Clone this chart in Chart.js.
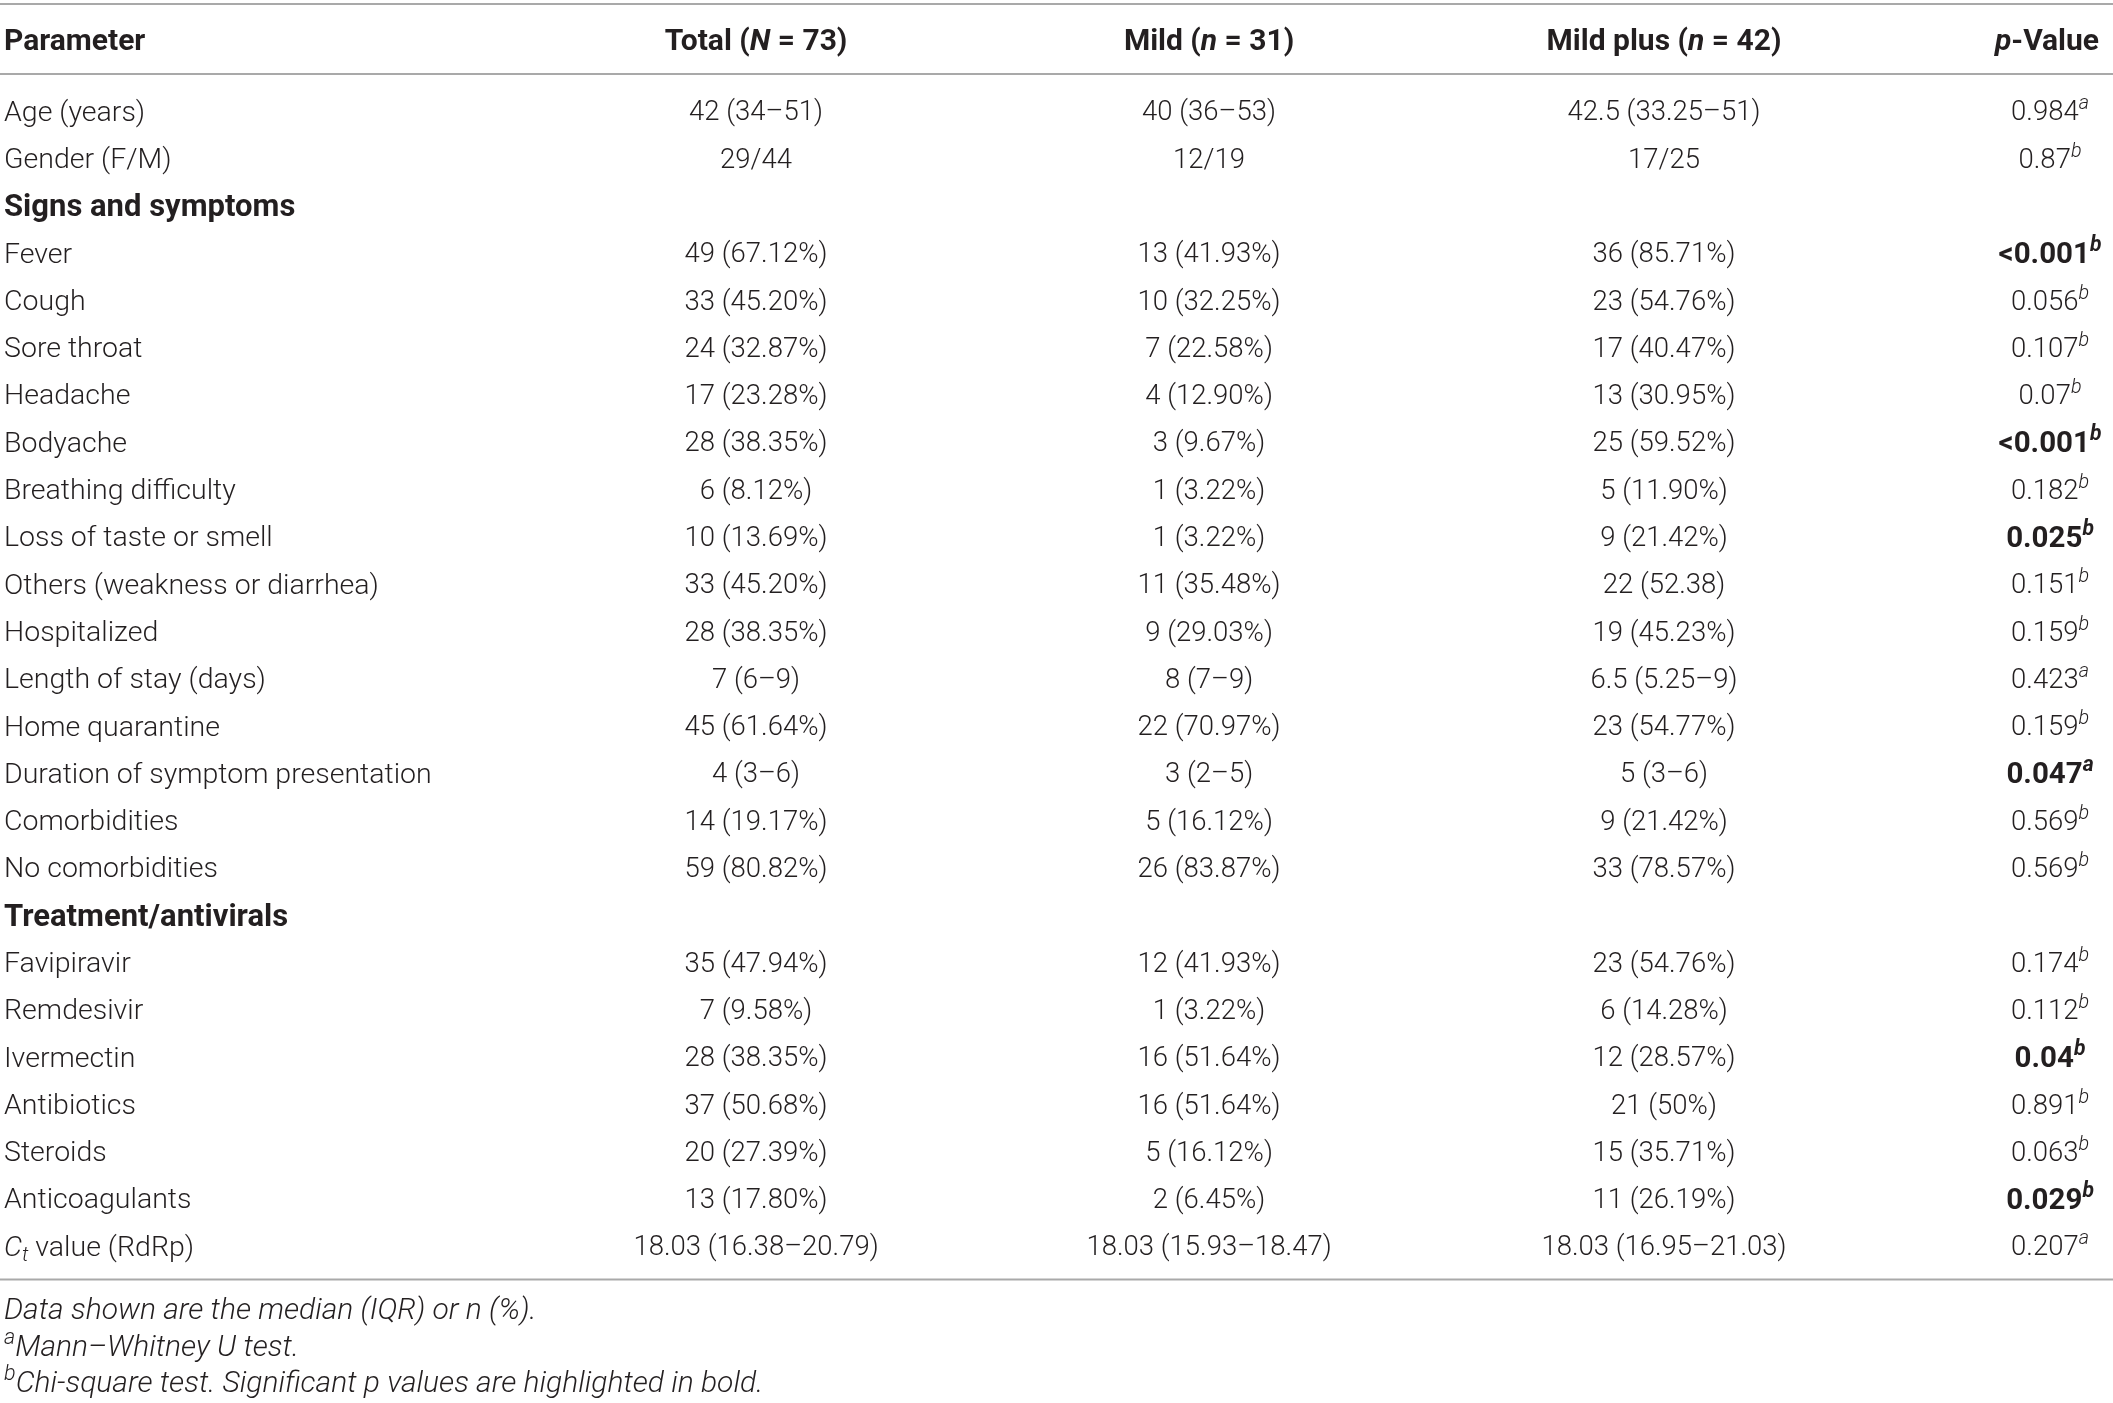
<!DOCTYPE html>
<html>
<head>
<meta charset="utf-8">
<script src="https://cdn.jsdelivr.net/npm/chart.js@4.4.0/dist/chart.umd.min.js"></script>
<style>
html,body{margin:0;padding:0;background:#fff;}
#wrap{width:2113px;height:1403px;}
</style>
</head>
<body>
<div id="wrap"><canvas id="c" width="2113" height="1403"></canvas></div>
<script>
// ---------------- DATA ----------------
const columnHeaders = ["Parameter", "Total ({i:N} = 73)", "Mild ({i:n} = 31)", "Mild plus ({i:n} = 42)", "{i:p}-Value"];

const parameters = [
  "Age (years)", "Gender (F/M)", "Signs and symptoms", "Fever", "Cough", "Sore throat",
  "Headache", "Bodyache", "Breathing difficulty", "Loss of taste or smell",
  "Others (weakness or diarrhea)", "Hospitalized", "Length of stay (days)", "Home quarantine",
  "Duration of symptom presentation", "Comorbidities", "No comorbidities", "Treatment/antivirals",
  "Favipiravir", "Remdesivir", "Ivermectin", "Antibiotics", "Steroids", "Anticoagulants",
  "{i:C}{sub:t} value (RdRp)"
];

const sectionRows = ["Signs and symptoms", "Treatment/antivirals"];

const totalValues = [
  "42 (34–51)", "29/44", "", "49 (67.12%)", "33 (45.20%)", "24 (32.87%)",
  "17 (23.28%)", "28 (38.35%)", "6 (8.12%)", "10 (13.69%)",
  "33 (45.20%)", "28 (38.35%)", "7 (6–9)", "45 (61.64%)",
  "4 (3–6)", "14 (19.17%)", "59 (80.82%)", "",
  "35 (47.94%)", "7 (9.58%)", "28 (38.35%)", "37 (50.68%)", "20 (27.39%)", "13 (17.80%)",
  "18.03 (16.38–20.79)"
];

const mildValues = [
  "40 (36–53)", "12/19", "", "13 (41.93%)", "10 (32.25%)", "7 (22.58%)",
  "4 (12.90%)", "3 (9.67%)", "1 (3.22%)", "1 (3.22%)",
  "11 (35.48%)", "9 (29.03%)", "8 (7–9)", "22 (70.97%)",
  "3 (2–5)", "5 (16.12%)", "26 (83.87%)", "",
  "12 (41.93%)", "1 (3.22%)", "16 (51.64%)", "16 (51.64%)", "5 (16.12%)", "2 (6.45%)",
  "18.03 (15.93–18.47)"
];

const mildPlusValues = [
  "42.5 (33.25–51)", "17/25", "", "36 (85.71%)", "23 (54.76%)", "17 (40.47%)",
  "13 (30.95%)", "25 (59.52%)", "5 (11.90%)", "9 (21.42%)",
  "22 (52.38)", "19 (45.23%)", "6.5 (5.25–9)", "23 (54.77%)",
  "5 (3–6)", "9 (21.42%)", "33 (78.57%)", "",
  "23 (54.76%)", "6 (14.28%)", "12 (28.57%)", "21 (50%)", "15 (35.71%)", "11 (26.19%)",
  "18.03 (16.95–21.03)"
];

const pValues = [
  "0.984", "0.87", "", "<0.001", "0.056", "0.107",
  "0.07", "<0.001", "0.182", "0.025",
  "0.151", "0.159", "0.423", "0.159",
  "0.047", "0.569", "0.569", "",
  "0.174", "0.112", "0.04", "0.891", "0.063", "0.029",
  "0.207"
];

const pTests = [
  "a", "b", "", "b", "b", "b",
  "b", "b", "b", "b",
  "b", "b", "a", "b",
  "a", "b", "b", "",
  "b", "b", "b", "b", "b", "b",
  "a"
];

const pSignificant = [
  false, false, false, true, false, false,
  false, true, false, true,
  false, false, false, false,
  true, false, false, false,
  false, false, true, false, false, true,
  false
];

const footnotes = [
  "Data shown are the median (IQR) or n (%).",
  "{supu:a}Mann–Whitney U test.",
  "{supu:b}Chi-square test. Significant p values are highlighted in bold."
];

// ---------------- LAYOUT ----------------
const COL_X = [0.0019, 0.3578, 0.5722, 0.7875, 0.9702];
const COL_ALIGN = ["left", "center", "center", "center", "center"];
const HEADER_ROW = -1.51;
const RULES = [-2.25, -0.77, 24.72];
const FOOT_ROWS = [25.33, 26.10, 26.86];
const Y_MIN = -2.336, Y_MAX = 27.33;

const TEXT_COLOR = "#231f20";
const RULE_COLOR = "#a9a9a9";
const FAMILY = "Roboto, 'Liberation Sans', sans-serif";
const NUM_SIZE = 27.5;
const LABEL_SIZE = 28.5;
const SECTION_SIZE = 31;
const HEADER_SIZE = 30;
const PBOLD_SIZE = 29.5;
const FOOT_SIZE = 30;

// ---------------- RICH TEXT ----------------
function parseRich(str) {
  const segs = [];
  const re = /\{(i|sub|sup|supu):([^}]*)\}/g;
  let last = 0, m;
  while ((m = re.exec(str))) {
    if (m.index > last) segs.push({ t: str.slice(last, m.index), k: "" });
    segs.push({ t: m[2], k: m[1] });
    last = re.lastIndex;
  }
  if (last < str.length) segs.push({ t: str.slice(last), k: "" });
  return segs;
}

function segFont(s, st) {
  let size = st.size, italic = st.italic, weight = st.weight;
  if (s.k === "i") italic = true;
  if (s.k === "sub" || s.k === "sup") { size = st.size * 0.72; italic = true; }
  if (s.k === "supu") { size = st.size * 0.72; }
  return (italic ? "italic " : "") + weight + " " + size.toFixed(1) + "px " + FAMILY;
}

function drawRich(ctx, str, x, y, align, st) {
  const segs = parseRich(str);
  let total = 0;
  const widths = segs.map(s => { ctx.font = segFont(s, st); const w = ctx.measureText(s.t).width; total += w; return w; });
  let cx = align === "left" ? x : align === "right" ? x - total : x - total / 2;
  const baseline = y + st.size * 0.36;
  ctx.fillStyle = TEXT_COLOR;
  ctx.textAlign = "left";
  ctx.textBaseline = "alphabetic";
  segs.forEach((s, i) => {
    ctx.font = segFont(s, st);
    let dy = 0;
    if (s.k === "sup" || s.k === "supu") dy = -st.size * 0.4;
    if (s.k === "sub") dy = st.size * 0.2;
    ctx.fillText(s.t, cx, baseline + dy);
    cx += widths[i] + (s.k === "sup" ? 1 : 0);
  });
}

// ---------------- DATASETS ----------------
const ruleDatasets = RULES.map(r => ({
  type: "line",
  data: [{ x: 0, y: r }, { x: 1, y: r }],
  borderColor: RULE_COLOR,
  borderWidth: 2,
  pointRadius: 0,
  fill: false
}));

const bodyColumns = [parameters, totalValues, mildValues, mildPlusValues,
  pValues.map((v, i) => v ? v + (pTests[i] ? "{sup:" + pTests[i] + "}" : "") : "")];

const textDatasets = bodyColumns.map((col, c) => ({
  type: "scatter",
  data: col.map((_, r) => ({ x: COL_X[c], y: r })),
  pointRadius: 0,
  isText: true,
  cellText: col,
  align: COL_ALIGN[c],
  styleFor: (r) => {
    if (c === 0) {
      if (sectionRows.includes(parameters[r])) return { size: SECTION_SIZE, weight: 700, italic: false };
      return { size: LABEL_SIZE, weight: 300, italic: false };
    }
    if (c === 4 && pSignificant[r]) return { size: PBOLD_SIZE, weight: 700, italic: false };
    return { size: NUM_SIZE, weight: 300, italic: false };
  }
}));

const headerDataset = {
  type: "scatter",
  data: columnHeaders.map((_, c) => ({ x: COL_X[c], y: HEADER_ROW })),
  pointRadius: 0,
  isText: true,
  isHeader: true,
  cellText: columnHeaders,
  alignFor: (i) => i === 4 ? "right" : COL_ALIGN[i],
  styleFor: () => ({ size: HEADER_SIZE, weight: 700, italic: false })
};

const footDataset = {
  type: "scatter",
  data: footnotes.map((_, i) => ({ x: COL_X[0], y: FOOT_ROWS[i] })),
  pointRadius: 0,
  isText: true,
  cellText: footnotes,
  align: "left",
  styleFor: () => ({ size: FOOT_SIZE, weight: 300, italic: true })
};

const tablePlugin = {
  id: "tableText",
  afterDatasetsDraw(chart) {
    const ctx = chart.ctx;
    ctx.save();
    chart.data.datasets.forEach((ds, di) => {
      if (!ds.isText) return;
      const meta = chart.getDatasetMeta(di);
      meta.data.forEach((el, i) => {
        const txt = ds.cellText[i];
        if (!txt) return;
        const align = ds.alignFor ? ds.alignFor(i) : ds.align;
        let x = el.x;
        if (ds.isHeader && i === 4) x = chart.scales.x.getPixelForValue(0.9934);
        drawRich(ctx, txt, x, el.y, align, ds.styleFor(i));
      });
    });
    ctx.restore();
  }
};

new Chart(document.getElementById("c"), {
  type: "scatter",
  data: { datasets: [...ruleDatasets, ...textDatasets, headerDataset, footDataset] },
  options: {
    responsive: false,
    animation: false,
    devicePixelRatio: 1,
    events: [],
    layout: { padding: 0 },
    plugins: { legend: { display: false }, tooltip: { enabled: false }, title: { display: false } },
    scales: {
      x: { type: "linear", display: false, min: 0, max: 1 },
      y: { type: "linear", display: false, min: Y_MIN, max: Y_MAX, reverse: true }
    }
  },
  plugins: [tablePlugin]
});
</script>
</body>
</html>
